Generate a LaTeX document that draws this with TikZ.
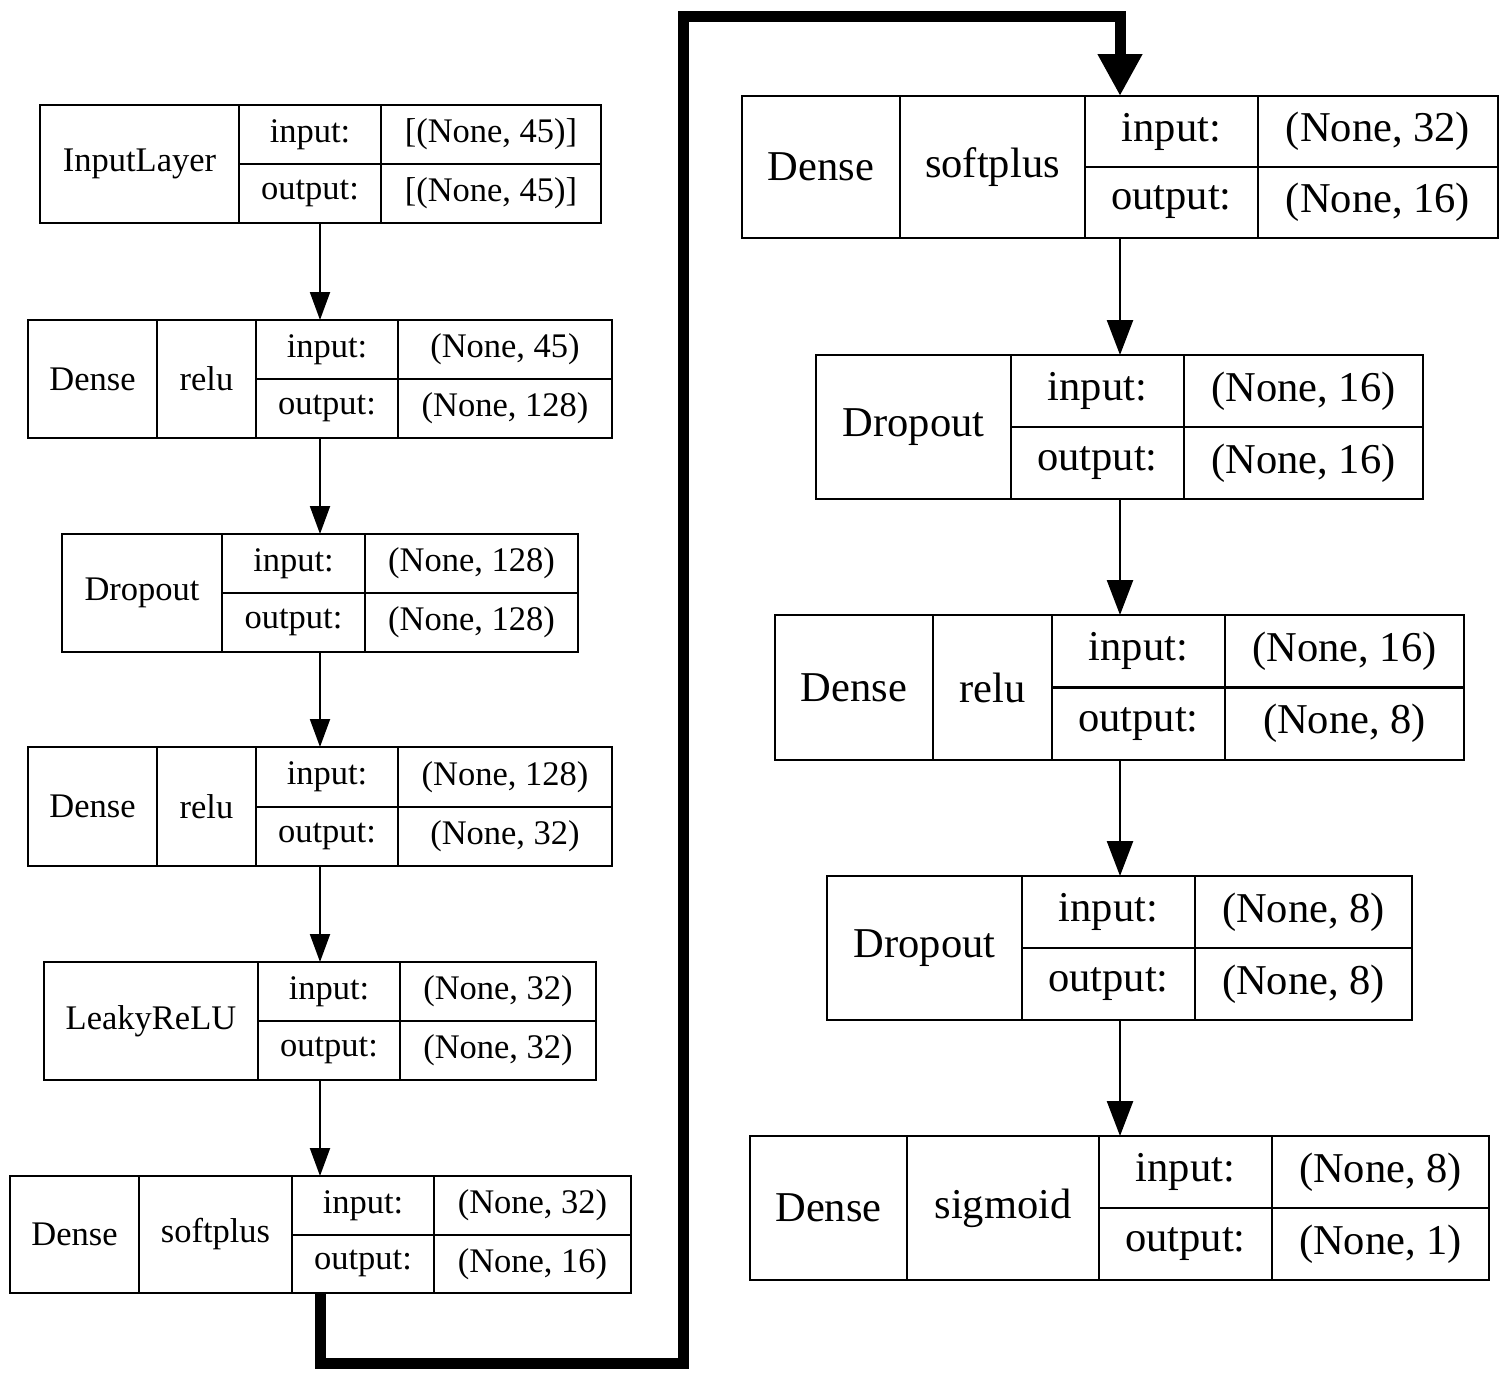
\documentclass[tikz,border=0pt]{standalone}
\usepackage{fontspec}
\setmainfont{Liberation Serif}
\usetikzlibrary{arrows.meta}
\newcommand\cell[7][cellbox]{%
  \pgfmathsetmacro\cellw{#5-#3}%
  \pgfmathsetmacro\cellh{#6-#4}%
  \node[#1, minimum width=\cellw pt, minimum height=\cellh pt] (#2) at ({(#3+#5)/2},{(#4+#6)/2}) {#7};%
}
\newcommand\io[8]{%
  \pgfmathsetmacro\ymid{(#2+#3)/2}%
  \cell{#1i}{#4}{#2}{#5}{\ymid}{input:}%
  \cell{#1iv}{#5}{#2}{#6}{\ymid}{#7}%
  \cell{#1o}{#4}{\ymid}{#5}{#3}{output:}%
  \cell{#1ov}{#5}{\ymid}{#6}{#3}{#8}%
}
\tikzset{
  cellbox/.style={draw, inner sep=0pt, outer sep=0pt},
  layerbox/.style={inner sep=0pt, outer sep=0pt},
  leftcol/.style={font=\fontsize{34.5}{40}\selectfont, line width=2pt},
  rightcol/.style={font=\fontsize{42.5}{48}\selectfont, line width=2.5pt},
  thinarrowL/.style={line width=2pt, -{Triangle[width=20pt,length=28pt]}},
  thinarrowR/.style={line width=2.5pt, -{Triangle[width=26pt,length=35pt]}},
  bigarrow/.style={line width=11pt, line join=miter, -{Triangle[width=42pt,length=42pt]}}
}
\begin{document}
\begin{tikzpicture}[x=1pt,y=-1pt]
\useasboundingbox (0,0) rectangle (1507,1382);
\begin{scope}[leftcol]
  % L1 InputLayer
  \cell[layerbox]{L1}{40}{105}{601}{223}{}
  \cell{L1a}{40}{105}{239}{223}{InputLayer}
  \io{L1}{105}{223}{239}{381}{601}{[(None, 45)]}{[(None, 45)]}
  % L2 Dense relu
  \cell[layerbox]{L2}{28}{320}{612}{438}{}
  \cell{L2a}{28}{320}{157}{438}{Dense}
  \cell{L2b}{157}{320}{256}{438}{relu}
  \io{L2}{320}{438}{256}{398}{612}{(None, 45)}{(None, 128)}
  % L3 Dropout
  \cell[layerbox]{L3}{62}{534}{578}{652}{}
  \cell{L3a}{62}{534}{222}{652}{Dropout}
  \io{L3}{534}{652}{222}{365}{578}{(None, 128)}{(None, 128)}
  % L4 Dense relu
  \cell[layerbox]{L4}{28}{747}{612}{866}{}
  \cell{L4a}{28}{747}{157}{866}{Dense}
  \cell{L4b}{157}{747}{256}{866}{relu}
  \io{L4}{747}{866}{256}{398}{612}{(None, 128)}{(None, 32)}
  % L5 LeakyReLU
  \cell[layerbox]{L5}{44}{962}{596}{1080}{}
  \cell{L5a}{44}{962}{258}{1080}{LeakyReLU}
  \io{L5}{962}{1080}{258}{400}{596}{(None, 32)}{(None, 32)}
  % L6 Dense softplus
  \cell[layerbox]{L6}{10}{1176}{631}{1293}{}
  \cell{L6a}{10}{1176}{139}{1293}{Dense}
  \cell{L6b}{139}{1176}{292}{1293}{softplus}
  \io{L6}{1176}{1293}{292}{434}{631}{(None, 32)}{(None, 16)}
\end{scope}
\begin{scope}[rightcol]
  % R1 Dense softplus
  \cell[layerbox]{R1}{742}{96}{1498}{238}{}
  \cell{R1a}{742}{96}{900}{238}{Dense}
  \cell{R1b}{900}{96}{1085}{238}{softplus}
  \io{R1}{96}{238}{1085}{1258}{1498}{(None, 32)}{(None, 16)}
  % R2 Dropout
  \cell[layerbox]{R2}{816}{355}{1423}{499}{}
  \cell{R2a}{816}{355}{1011}{499}{Dropout}
  \io{R2}{355}{499}{1011}{1184}{1423}{(None, 16)}{(None, 16)}
  % R3 Dense relu
  \cell[layerbox]{R3}{775}{615}{1464}{760}{}
  \cell{R3a}{775}{615}{933}{760}{Dense}
  \cell{R3b}{933}{615}{1052}{760}{relu}
  \io{R3}{615}{760}{1052}{1225}{1464}{(None, 16)}{(None, 8)}
  % R4 Dropout
  \cell[layerbox]{R4}{827}{876}{1412}{1020}{}
  \cell{R4a}{827}{876}{1022}{1020}{Dropout}
  \io{R4}{876}{1020}{1022}{1195}{1412}{(None, 8)}{(None, 8)}
  % R5 Dense sigmoid
  \cell[layerbox]{R5}{750}{1136}{1489}{1280}{}
  \cell{R5a}{750}{1136}{907}{1280}{Dense}
  \cell{R5b}{907}{1136}{1099}{1280}{sigmoid}
  \io{R5}{1136}{1280}{1099}{1272}{1489}{(None, 8)}{(None, 1)}
\end{scope}
% left column arrows
\draw[thinarrowL] (L2.north |- L1.south) -- (L2.north);
\draw[thinarrowL] (L2.north |- L2.south) -- (L2.north |- L3.north);
\draw[thinarrowL] (L2.north |- L3.south) -- (L2.north |- L4.north);
\draw[thinarrowL] (L2.north |- L4.south) -- (L2.north |- L5.north);
\draw[thinarrowL] (L2.north |- L5.south) -- (L2.north |- L6.north);
% right column arrows
\draw[thinarrowR] (R1.south) -- (R1.south |- R2.north);
\draw[thinarrowR] (R1.south |- R2.south) -- (R1.south |- R3.north);
\draw[thinarrowR] (R1.south |- R3.south) -- (R1.south |- R4.north);
\draw[thinarrowR] (R1.south |- R4.south) -- (R1.south |- R5.north);
% thick connector
\coordinate (cA) at (683,1363);
\coordinate (cB) at (683,16);
\draw[bigarrow] (L2.north |- L6.south) |- (cA) -- (cB) -| (R1.north);
\end{tikzpicture}
\end{document}
